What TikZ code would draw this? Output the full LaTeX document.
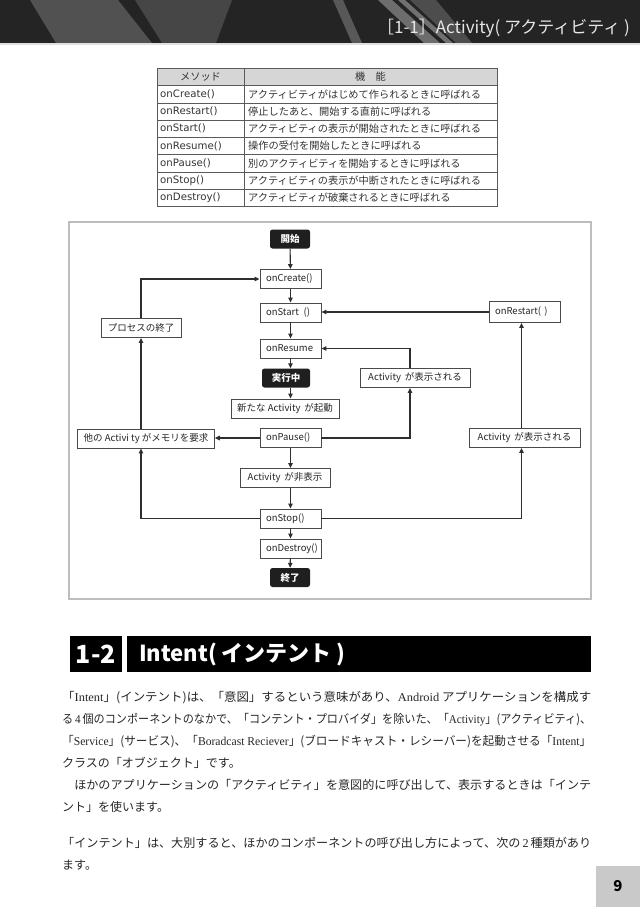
\documentclass[tikz,border=0pt]{standalone}
\usepackage{graphicx}
\usepackage{fontspec}
\setmainfont{Noto Sans CJK JP}
\newfontfamily\latserif{Liberation Serif}
\newfontfamily\latsans{DejaVu Sans}
\usetikzlibrary{arrows.meta, positioning, calc}
\definecolor{bandgray}{HTML}{242424}
\definecolor{streakgray}{HTML}{515151}
\definecolor{streaklight}{HTML}{8C8C8C}
\definecolor{titlegray}{HTML}{E6E6E6}
\definecolor{tablehead}{HTML}{D6D6D6}
\definecolor{tableline}{HTML}{5A5A5A}
\definecolor{framegray}{HTML}{BDBDBD}
\definecolor{boxgray}{HTML}{4A4A4A}
\definecolor{linegray}{HTML}{2E2E2E}
\definecolor{pagegray}{HTML}{C9C9C9}
% one justified line of body text
\newcommand{\fullline}[1]{\resizebox{529pt}{\height}{#1}}

\begin{document}
\begin{tikzpicture}[x=1pt, y=-1pt,
    flow/.style={-{Triangle[length=5pt, width=4.5pt]}, draw=linegray, line width=1.1pt},
    stagebox/.style={draw=boxgray, fill=white, line width=0.9pt, text=black!85,
      font=\fontsize{9.5}{11}\selectfont, minimum height=19pt, inner xsep=6pt, inner ysep=0pt},
    leftbox/.style={stagebox, text width=49pt, align=left},
    termbox/.style={fill=black!88, rounded corners=2.5pt, text=white,
      font=\fontsize{9.5}{11}\selectfont\bfseries, minimum width=40pt, minimum height=19pt, inner sep=0pt},
    cell/.style={anchor=west, inner sep=0pt, text=black!80, font=\fontsize{10.2}{12}\selectfont},
    bodyline/.style={anchor=base west, inner sep=0pt, font=\fontsize{12}{14}\selectfont, text=black!85}]
  \useasboundingbox (0,0) rectangle (640,907);
  % Header band with streaks
  \fill[bandgray] (0,0) rectangle (640,43);
  \fill[streakgray] (30,0) -- (118,0) -- (152,43) -- (56,43) -- cycle;
  \fill[streakgray!75!bandgray] (135,0) -- (232,0) -- (216,43) -- (162,43) -- cycle;
  \fill[streaklight, opacity=0.5] (333,0) -- (343,0) -- (362,43) -- (352,43) -- cycle;
  \fill[streaklight, opacity=0.7] (378,0) -- (392,0) -- (440,43) -- (424,43) -- cycle;
  \fill[white, opacity=0.35] (398,0) -- (405,0) -- (453,43) -- (446,43) -- cycle;
  \fill[streaklight, opacity=0.4] (410,0) -- (436,0) -- (472,43) -- (456,43) -- cycle;
  \fill[black!12] (0,43) rectangle (640,45);
  \node[anchor=east, inner sep=0pt, text=titlegray, font=\fontsize{17}{18}\selectfont]
    (pagetitle) at (630,28) {［1-1］Activity( アクティビティ )};

  % Method table
  \draw[tableline, line width=0.8pt, fill=tablehead] (157,68) rectangle (497,85.5);
  \draw[tableline, line width=0.8pt] (157,68) rectangle (497,206.6);
  \draw[tableline, line width=0.8pt] (244,68) -- (244,206.6);
  \draw[tableline, line width=0.6pt] (157,102.8) -- (497,102.8);
  \draw[tableline, line width=0.6pt] (157,120.1) -- (497,120.1);
  \draw[tableline, line width=0.6pt] (157,137.4) -- (497,137.4);
  \draw[tableline, line width=0.6pt] (157,154.7) -- (497,154.7);
  \draw[tableline, line width=0.6pt] (157,172.0) -- (497,172.0);
  \draw[tableline, line width=0.6pt] (157,189.3) -- (497,189.3);
  \node[cell, anchor=center] (mhead) at (200.5,76.8) {メソッド};
  \node[cell, anchor=center] (fhead) at (370.5,76.8) {機　能};
  \node[cell] (m1) at (160,94.2)  {\latsans onCreate()};
  \node[cell] (f1) at (248,94.2)  {アクティビティがはじめて作られるときに呼ばれる};
  \node[cell] (m2) at (160,111.5) {\latsans onRestart()};
  \node[cell] (f2) at (248,111.5) {停止したあと、開始する直前に呼ばれる};
  \node[cell] (m3) at (160,128.8) {\latsans onStart()};
  \node[cell] (f3) at (248,128.8) {アクティビティの表示が開始されたときに呼ばれる};
  \node[cell] (m4) at (160,146.1) {\latsans onResume()};
  \node[cell] (f4) at (248,146.1) {操作の受付を開始したときに呼ばれる};
  \node[cell] (m5) at (160,163.4) {\latsans onPause()};
  \node[cell] (f5) at (248,163.4) {別のアクティビティを開始するときに呼ばれる};
  \node[cell] (m6) at (160,180.7) {\latsans onStop()};
  \node[cell] (f6) at (248,180.7) {アクティビティの表示が中断されたときに呼ばれる};
  \node[cell] (m7) at (160,198.0) {\latsans onDestroy()};
  \node[cell] (f7) at (248,198.0) {アクティビティが破棄されるときに呼ばれる};

  % Lifecycle diagram frame
  \draw[framegray, line width=1.2pt] (69,222) rectangle (591,599);
  % Main column
  \node[termbox] (start) at (290,239) {開始};
  \node[leftbox] (create) at (290.5,279) {onCreate()};
  \node[leftbox] (onstart) at (290.5,312.5) {onStart \,()};
  \node[leftbox] (resume) at (290.5,348.5) {onResume};
  \node[termbox, minimum width=48pt] (running) at (286,378) {実行中};
  \node[stagebox, minimum width=108pt] (newact) at (285,408.5) {新たな Activity \,が起動};
  \node[leftbox] (pause) at (290.5,438) {onPause()};
  \node[stagebox, minimum width=90pt] (hidden) at (285,478) {Activity \,が非表示};
  \node[leftbox] (stop) at (290.5,518.5) {onStop()};
  \node[leftbox] (destroy) at (290.5,548.5) {onDestroy()};
  \node[termbox] (finish) at (290,577.5) {終了};
  % Left side
  \node[stagebox, minimum width=80pt] (procend) at (141,328) {プロセスの終了};
  \node[stagebox, minimum width=130pt] (memreq) at (146,438.5) {他の Activi ty がメモリを要求};
  % Right side
  \node[stagebox, text width=59pt, align=left, minimum height=21pt] (restart) at (524.5,312) {onRestart( )};
  \node[stagebox, minimum width=110pt] (shown1) at (415,378) {Activity \,が表示される};
  \node[stagebox, minimum width=111pt] (shown2) at (524.5,438) {Activity \,が表示される};

  % Main flow
  \draw[flow] (start) -- (create);
  \draw[flow] (create) -- (onstart);
  \draw[flow] (onstart) -- (resume);
  \draw[flow] (resume.south) -- (resume.south |- running.north);
  \draw[flow] (resume.south |- running.south) -- (resume.south |- newact.north);
  \draw[flow] (pause) -- (pause.south |- hidden.north);
  \draw[flow] (pause.south |- hidden.south) -- (stop);
  \draw[flow] (stop) -- (destroy);
  \draw[flow] (destroy) -- (finish);
  % Branches to the left
  \draw[flow] (pause.west) -- (pause.west -| memreq.east);
  \draw[flow] (stop.west) -| ([xshift=-5pt]memreq.south);
  \draw[flow] ([xshift=-5pt]memreq.north) -- (procend.south);
  \draw[flow] (procend.north) |- (create.west);
  % Branches to the right
  \draw[flow] (pause.east) -| ([xshift=-5pt]shown1.south);
  \draw[flow] ([xshift=-5pt]shown1.north) |- (resume.east);
  \draw[flow] (stop.east) -| ([xshift=-3pt]shown2.south);
  \draw[flow] ([xshift=-3pt]shown2.north) -- ([xshift=-3pt]restart.south);
  \draw[flow] (restart.west) -- (restart.west -| onstart.east);

  % Section heading
  \fill[black] (70,636) rectangle (122,672);
  \fill[black] (127,636) rectangle (591,672);
  \node[text=white, inner sep=0pt, font=\fontsize{25}{26}\selectfont\bfseries]
    (secnum) at (96,654) {1-2};
  \node[anchor=west, text=white, inner sep=0pt, font=\fontsize{22}{24}\selectfont\bfseries]
    (sectitle) at (139,654) {Intent( インテント )};

  % Body text, line by line
  \node[bodyline] (line1) at (62,701.5)
    {\fullline{「{\latserif Intent}」(インテント)は、「意図」するという意味があり、{\latserif Android} アプリケーションを構成す}};
  \node[bodyline] (line2) at (62,723.5)
    {\fullline{る{\latserif\,4\,}個のコンポーネントのなかで、「コンテント・プロバイダ」を除いた、「{\latserif Activity}」(アクティビティ)、}};
  \node[bodyline] (line3) at (62,745.5)
    {\fullline{「{\latserif Service}」(サービス)、「{\latserif Boradcast Reciever}」(ブロードキャスト・レシーバー)を起動させる「{\latserif Intent}」}};
  \node[bodyline] (line4) at (62,767.5) {クラスの「オブジェクト」です。};
  \node[bodyline] (line5) at (62,789.5)
    {\fullline{　ほかのアプリケーションの「アクティビティ」を意図的に呼び出して、表示するときは「インテ}};
  \node[bodyline] (line6) at (62,811.5) {ント」を使います。};
  \node[bodyline] (line7) at (62,847.5)
    {\fullline{「インテント」は、大別すると、ほかのコンポーネントの呼び出し方によって、次の{\latserif\,2\,}種類があり}};
  \node[bodyline] (line8) at (62,869.5) {ます。};

  % Page number tab
  \fill[pagegray] (596,866) rectangle (640,907);
  \node[font=\fontsize{15}{16}\selectfont\bfseries, inner sep=0pt] (pagenum) at (618,886) {9};
\end{tikzpicture}
\end{document}
